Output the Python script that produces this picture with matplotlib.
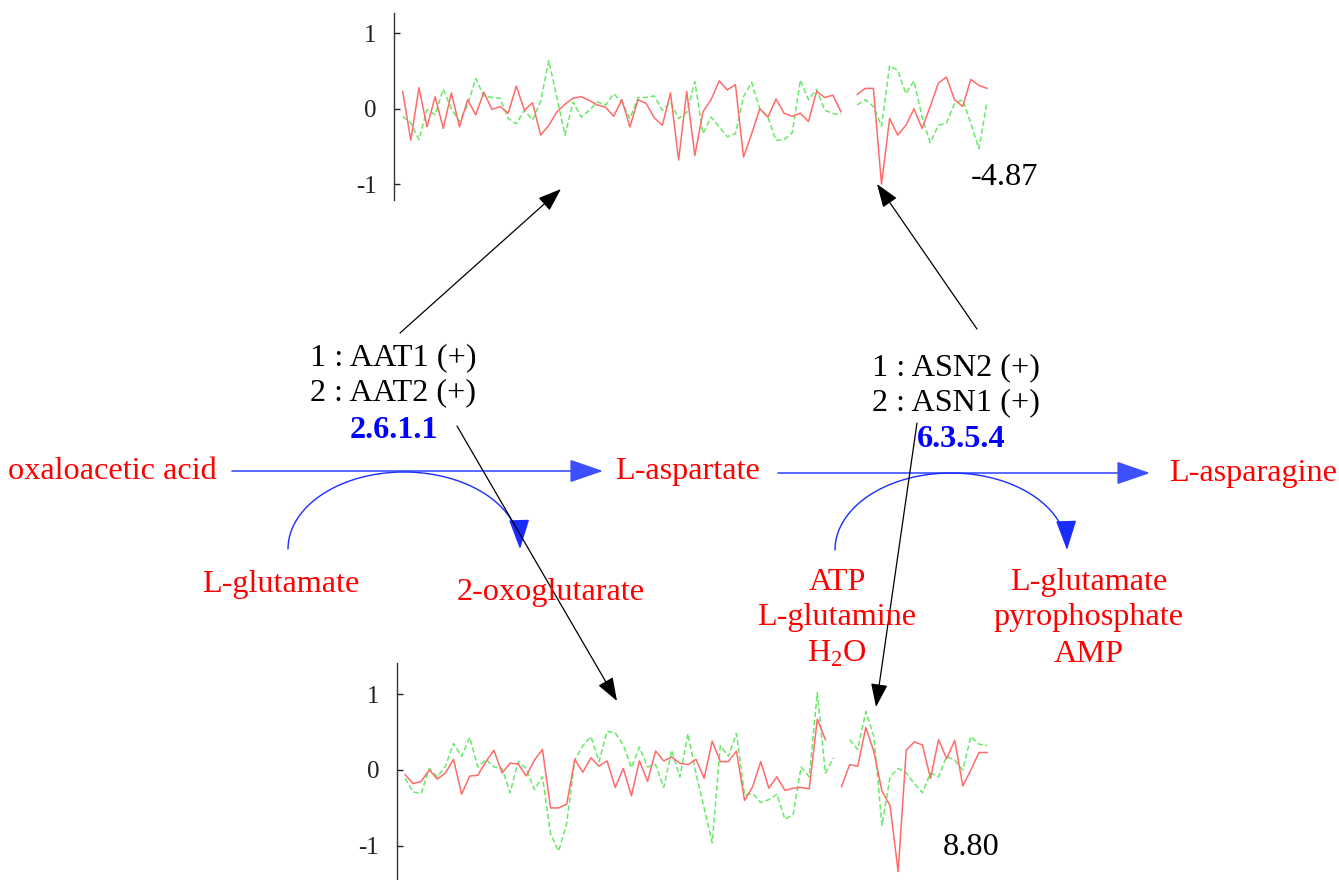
import numpy as np
import matplotlib
matplotlib.use("Agg")
import matplotlib.pyplot as plt
from matplotlib.patches import FancyArrowPatch
from matplotlib.path import Path

plt.rcParams['font.family'] = 'Liberation Serif'
plt.rcParams['mathtext.fontset'] = 'custom'
plt.rcParams['mathtext.rm'] = 'Liberation Serif'

nan = np.nan
# expression profiles (upper plot: 2.6.1.1, lower plot: 6.3.5.4)
top_red = [0.23, -0.42, 0.28, -0.24, 0.16, -0.26, 0.21, -0.24, 0.12, -0.08,
           0.22, -0.01, 0.03, -0.06, 0.30, -0.02, 0.08, -0.35, -0.22, -0.04,
           0.06, 0.14, 0.16, 0.11, 0.05, 0.02, -0.10, 0.12, -0.24, 0.12,
           0.07, -0.12, -0.22, 0.21, -0.68, 0.23, -0.62, -0.04, 0.12, 0.37,
           0.25, 0.32, -0.64, -0.33, 0.00, -0.11, 0.13, -0.06, -0.10, -0.06,
           -0.17, 0.23, 0.15, 0.18, -0.04, nan,
           0.19, 0.27, 0.27, -1.00, -0.13, -0.35, -0.22, 0.00, -0.26, 0.03,
           0.34, 0.42, 0.12, 0.03, 0.39, 0.31, 0.27]
top_green = [-0.10, -0.19, -0.41, -0.01, -0.08, 0.26, 0.00, -0.17, 0.05, 0.40,
             0.17, 0.15, 0.14, -0.13, -0.20, -0.02, -0.15, 0.10, 0.64, 0.15,
             -0.35, 0.09, -0.11, -0.02, 0.09, 0.05, 0.20, 0.09, -0.13, 0.15,
             0.15, 0.17, -0.02, 0.09, -0.13, -0.05, 0.36, -0.33, -0.11, -0.24,
             -0.37, -0.33, 0.16, 0.35, 0.00, -0.11, -0.42, -0.41, -0.32, 0.38,
             0.12, 0.26, -0.02, -0.06, -0.08, nan,
             0.05, 0.12, 0.03, -0.23, 0.57, 0.51, 0.20, 0.37, -0.11, -0.45,
             -0.22, -0.19, 0.07, 0.12, -0.19, -0.53, 0.09]
bot_red = [-0.06, -0.18, -0.15, 0.00, -0.12, -0.04, 0.14, -0.32, -0.08, -0.07,
           0.11, 0.26, -0.04, 0.09, 0.08, -0.08, 0.13, 0.27, -0.50, -0.50,
           -0.45, 0.14, -0.03, 0.16, 0.05, 0.12, -0.23, 0.02, -0.34, 0.12,
           -0.15, 0.25, 0.12, 0.17, 0.09, 0.07, 0.14, -0.11, 0.38, 0.11,
           0.11, 0.25, -0.40, -0.22, 0.11, -0.24, -0.09, -0.27, -0.24, -0.23,
           -0.25, 0.67, 0.40, nan,
           -0.22, 0.07, 0.05, 0.56, 0.24, -0.28, -0.47, -1.34, 0.26, 0.37,
           0.33, -0.11, 0.40, 0.15, 0.39, -0.21, 0.00, 0.23, 0.23]
bot_green = [-0.11, -0.29, -0.31, 0.02, -0.09, 0.05, 0.35, 0.18, 0.43, 0.04,
             0.14, 0.04, 0.02, -0.30, 0.11, 0.02, -0.26, -0.09, -0.84, -1.07,
             -0.70, 0.13, 0.32, 0.44, 0.11, 0.51, 0.49, 0.33, 0.03, 0.30,
             0.04, 0.07, -0.23, 0.26, -0.09, 0.48, -0.05, -0.50, -0.96, 0.32,
             0.18, 0.48, -0.33, -0.31, -0.43, -0.39, -0.32, -0.65, -0.59, 0.04,
             -0.09, 1.02, -0.04, 0.16, nan,
             0.40, 0.27, 0.77, 0.44, -0.73, -0.09, 0.02, -0.04, -0.18, -0.30,
             -0.04, -0.09, 0.18, 0.13, 0.00, 0.44, 0.34, 0.32]
top_score = "-4.87"
bot_score = "8.80"
yticks = [-1, 0, 1]

W, H = 1339, 880
fig = plt.figure(figsize=(W / 100, H / 100), dpi=100)
ax = fig.add_axes([0, 0, 1, 1])
ax.set_xlim(0, W)
ax.set_ylim(H, 0)
ax.axis('off')

RED = '#ff0000'
BLUE = '#0000ff'
fs = 23.2


def txt(x, y, s, color='black', **kw):
    ax.text(x, y, s, color=color, fontsize=fs, ha='center', va='baseline', **kw)


def arrow(p0, p1, color='black', lw=0.9, hl=1.0, hw=0.36):
    a = FancyArrowPatch(p0, p1, arrowstyle='-|>,head_length=%g,head_width=%g' % (hl, hw),
                        mutation_scale=14.5, color=color, lw=lw, shrinkA=0, shrinkB=0)
    ax.add_patch(a)


def arc(cx, cy, rx, ry):
    t = np.linspace(np.pi, 0.0, 80)
    pts = np.column_stack([cx + rx * np.cos(t), cy - ry * np.sin(t)])
    p = Path(pts)
    a = FancyArrowPatch(path=p, arrowstyle='-|>,head_length=1.3,head_width=0.45',
                        mutation_scale=14.5, color='#1a2cff', lw=1.0)
    ax.add_patch(a)


# enzymes
txt(393, 365, "1 : AAT1 (+)")
txt(393, 400, "2 : AAT2 (+)")
txt(394, 438, "2.6.1.1", color=BLUE, fontweight='bold')
txt(956, 375, "1 : ASN2 (+)")
txt(956, 410, "2 : ASN1 (+)")
txt(961, 447, "6.3.5.4", color=BLUE, fontweight='bold')

# compounds
txt(112, 479, "oxaloacetic acid", color=RED)
txt(688, 479, "L-aspartate", color=RED)
txt(1253, 481, "L-asparagine", color=RED)
txt(281, 592, "L-glutamate", color=RED)
txt(551, 600, "2-oxoglutarate", color=RED)
txt(837, 590, "ATP", color=RED)
txt(837, 625, "L-glutamine", color=RED)
txt(837, 662, r"H$_2$O", color=RED)
txt(1089, 590, "L-glutamate", color=RED)
txt(1089, 625, "pyrophosphate", color=RED)
txt(1089, 662, "AMP", color=RED)

# reaction arrows
arrow((232, 471), (603, 471), color='#3d50ff', lw=1.2, hl=1.45, hw=0.5)
arrow((778, 473), (1150, 473), color='#3d50ff', lw=1.2, hl=1.45, hw=0.5)
arc(404, 549, 116, 77)
arc(951, 550, 116, 77)

# links to profiles
arrow((400, 333), (561, 189))
arrow((977, 329), (877, 184))
arrow((457, 426), (617, 701))
arrow((917, 423), (876, 707))

txt(1004, 185, top_score)
txt(971, 855, bot_score)


def profile(rect, red, green, ylim, left):
    pa = fig.add_axes(rect)
    pa.set_facecolor('none')
    x = np.arange(len(red))
    pa.plot(x, green, color='#66ea66', lw=1.1, ls=(0, (3.5, 1.8)))
    pa.plot(x, red, color='#ff6b6b', lw=1.1)
    pa.set_xlim(left, 73.6)
    pa.set_ylim(*ylim)
    for s in ['top', 'right', 'bottom']:
        pa.spines[s].set_visible(False)
    pa.spines['left'].set_color('#333333')
    pa.spines['left'].set_linewidth(1.0)
    pa.set_xticks([])
    pa.set_yticks(yticks)
    pa.set_yticklabels(['-1', '0', '1'])
    pa.tick_params(axis='y', direction='in', length=4, width=1, pad=12.5,
                   labelsize=18, colors='#222222')
    return pa


profile([394 / W, (H - 200) / H, (1000 - 394) / W, (200 - 13) / H],
        top_red, top_green, (-1.21, 1.27), -1.07)
profile([396.7 / W, 0, (1000 - 396.7) / W, (H - 663) / H],
        bot_red, bot_green, (-1.45, 1.41), -1.03)

fig.savefig('out.png', dpi=100)
